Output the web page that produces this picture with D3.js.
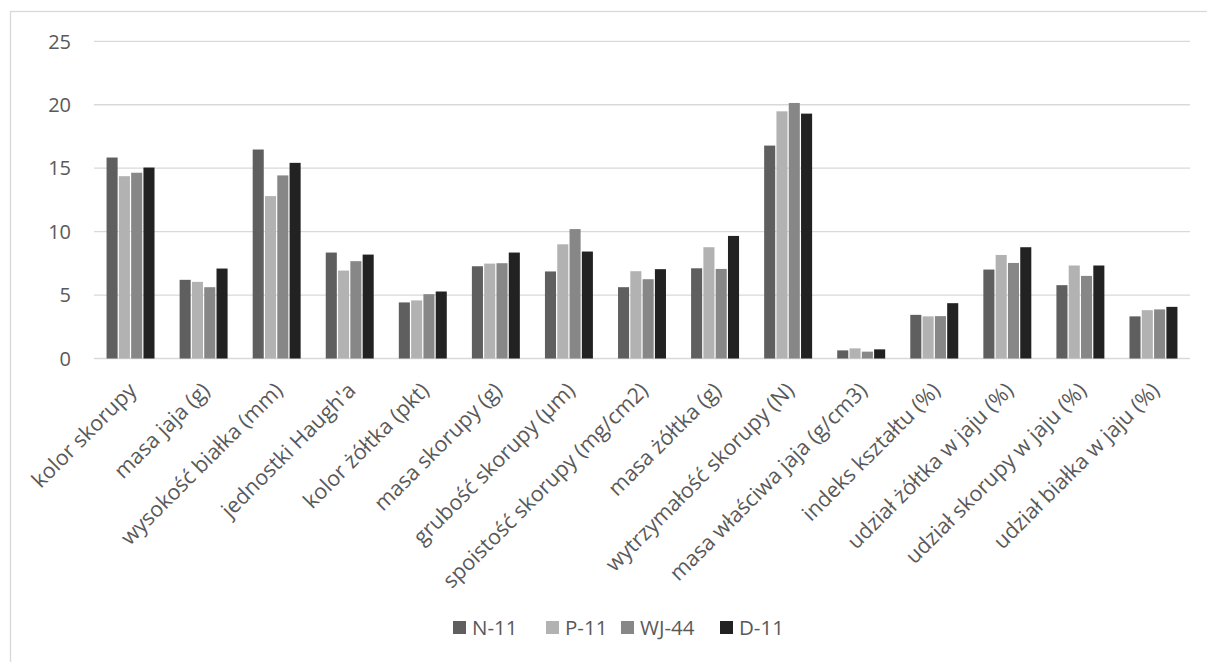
<!DOCTYPE html>
<html><head><meta charset="utf-8">
<script src="https://cdn.jsdelivr.net/npm/d3@7/dist/d3.min.js"></script>
<style>body{margin:0;background:#fff;} text{font-family:"Open Sans","Liberation Sans",sans-serif;fill:#595959;}</style>
</head><body><svg id="c" width="1207" height="662"></svg>
<script>
const categories = ["kolor skorupy","masa jaja (g)","wysokość białka (mm)","jednostki Haugh'a","kolor żółtka (pkt)","masa skorupy (g)","grubość skorupy (µm)","spoistość skorupy (mg/cm2)","masa żółtka (g)","wytrzymałość skorupy (N)","masa właściwa jaja (g/cm3)","indeks kształtu (%)","udział żółtka w jaju (%)","udział skorupy w jaju (%)","udział białka w jaju (%)"];
const seriesNames = ["N-11","P-11","WJ-44","D-11"];
const seriesColors = ["#5f5f5f","#b2b2b2","#878787","#222222"];
const N11  = [15.84,6.2,16.47,8.35,4.42,7.27,6.86,5.62,7.11,16.78,0.64,3.44,7.01,5.78,3.32];
const P11  = [14.37,6.04,12.8,6.93,4.58,7.48,9.0,6.88,8.77,19.48,0.8,3.32,8.16,7.33,3.81];
const WJ44 = [14.64,5.62,14.43,7.67,5.07,7.51,10.2,6.25,7.06,20.14,0.54,3.34,7.53,6.51,3.87];
const D11  = [15.05,7.09,15.42,8.19,5.28,8.35,8.43,7.04,9.66,19.3,0.72,4.36,8.77,7.33,4.07];
const yTicks = [0,5,10,15,20,25];
const seriesValues = [N11,P11,WJ44,D11];

const svg = d3.select("#c");
svg.append("rect").attr("x",10.5).attr("y",11.5).attr("width",1220).attr("height",700)
  .attr("fill","none").attr("stroke","#d9d9d9").attr("stroke-width",1.3);

const L=94, R=1190, T=41.3, B=358.5;
const y = d3.scaleLinear().domain([0,25]).range([B,T]);
const x0 = d3.scaleBand().domain(categories).range([L,R]).paddingInner(0.31).paddingOuter(0.155);
const x1 = d3.scaleBand().domain(seriesNames).range([0,x0.bandwidth()]).padding(0.1);

const gy = svg.append("g");
gy.selectAll("line").data(yTicks).join("line")
  .attr("x1",L).attr("x2",R).attr("y1",d=>y(d)).attr("y2",d=>y(d))
  .attr("stroke","#d9d9d9").attr("stroke-width",1.3);
gy.selectAll("text").data(yTicks).join("text")
  .attr("x",71).attr("y",d=>y(d)).attr("dy","0.36em").attr("text-anchor","end")
  .style("font-size","20px").text(d=>d);

const g = svg.append("g");
categories.forEach((c,i)=>{
  seriesNames.forEach((s,j)=>{
    const v = seriesValues[j][i];
    g.append("rect").attr("x",x0(c)+x1(s)).attr("y",y(v))
      .attr("width",x1.bandwidth()).attr("height",B-y(v))
      .attr("fill",seriesColors[j]);
  });
});

svg.append("g").selectAll("text").data(categories).join("text")
  .attr("transform",d=>`translate(${x0(d)+x0.bandwidth()/2+2},${B+28}) rotate(-45)`)
  .attr("text-anchor","end").attr("dy","0.35em")
  .style("font-size","21.5px").text(d=>d);

const legX = [453,546,621,720];
const lg = svg.append("g");
seriesNames.forEach((s,j)=>{
  lg.append("rect").attr("x",legX[j]).attr("y",621).attr("width",13).attr("height",13).attr("fill",seriesColors[j]);
  lg.append("text").attr("x",legX[j]+19).attr("y",628).attr("dy","0.36em").style("font-size","20.5px").text(s);
});
</script></body></html>
